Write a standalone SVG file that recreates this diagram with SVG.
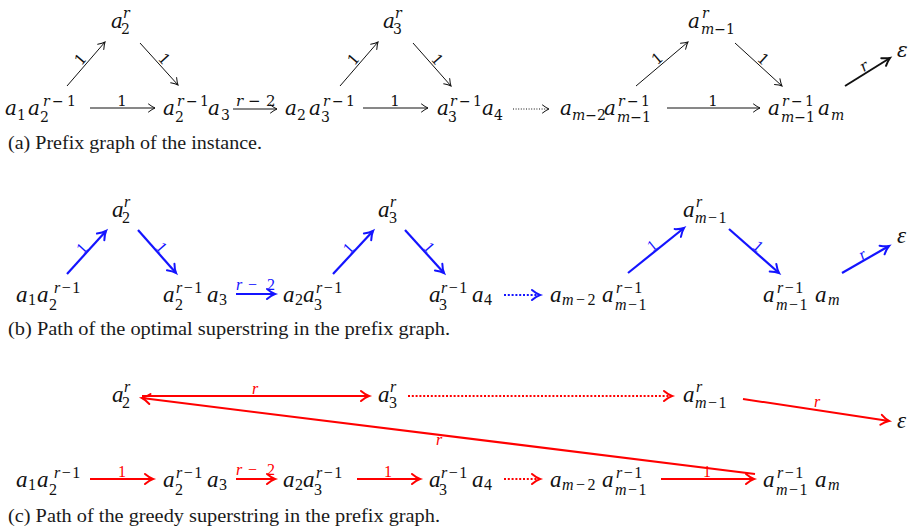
<svg xmlns="http://www.w3.org/2000/svg" width="908" height="529" viewBox="0 0 908 529">
<style>
.ma{font-family:"DejaVu Serif",serif;font-size:20px;font-style:italic;fill:#111}
.sa{font-size:14px}
.mb{font-family:"Liberation Serif","DejaVu Serif",serif;font-size:23px;font-style:italic;fill:#111}
.sb{font-size:16px}
.u{font-style:normal}
.it{font-style:italic}
.cap{font-family:"Liberation Serif",serif;font-size:19px;fill:#1a1a1a}
.lk{font-family:"DejaVu Serif",serif;font-size:15px;fill:#111}
.lb{font-family:"Liberation Serif",serif;font-size:16px;fill:#1414ff}
.lr{font-family:"Liberation Serif",serif;font-size:16px;fill:#ff0000}
.ek{stroke:#111;stroke-width:1;fill:none;marker-end:url(#hk)}
.ekt{stroke:#111;stroke-width:2;fill:none;marker-end:url(#hkt)}
.eb{stroke:#1414ff;stroke-width:2.2;fill:none;marker-end:url(#hb)}
.er{stroke:#ff0000;stroke-width:2;fill:none;marker-end:url(#hr)}
.dk{stroke-dasharray:1 1.6}
.dc{stroke-dasharray:2 1.8}
</style>
<defs>
<marker id="hk" markerUnits="userSpaceOnUse" orient="auto" viewBox="-12 -7 14 14" markerWidth="14" markerHeight="14" refX="0" refY="0" overflow="visible"><path d="M-6.5,-4 Q-2.5,-1 0,0 Q-2.5,1 -6.5,4" fill="none" stroke="#111" stroke-width="1" stroke-linecap="round"/></marker>
<marker id="hkt" markerUnits="userSpaceOnUse" orient="auto" viewBox="-12 -7 14 14" markerWidth="14" markerHeight="14" refX="0" refY="0" overflow="visible"><path d="M-7.5,-4.5 Q-3,-1.2 0,0 Q-3,1.2 -7.5,4.5" fill="none" stroke="#111" stroke-width="2" stroke-linecap="round"/></marker>
<marker id="hb" markerUnits="userSpaceOnUse" orient="auto" viewBox="-12 -7 14 14" markerWidth="14" markerHeight="14" refX="0" refY="0" overflow="visible"><path d="M-8,-5 Q-3.5,-1.2 0,0 Q-3.5,1.2 -8,5" fill="none" stroke="#1414ff" stroke-width="2" stroke-linecap="round"/></marker>
<marker id="hr" markerUnits="userSpaceOnUse" orient="auto" viewBox="-12 -7 14 14" markerWidth="14" markerHeight="14" refX="0" refY="0" overflow="visible"><path d="M-8,-5 Q-3.5,-1.2 0,0 Q-3.5,1.2 -8,5" fill="none" stroke="#ff0000" stroke-width="2" stroke-linecap="round"/></marker>
</defs>
<rect width="908" height="529" fill="#fff"/>

<!-- Panel (a) -->
<g id="a-connectors">
<path class="ek" d="M67,86 L105,42"/>
<path class="ek" d="M140,43 L178,85"/>
<path class="ek" d="M90,108 L155,108"/>
<path class="ek" d="M233,109 L277,109"/>
<path class="ek" d="M340,86 L378,42"/>
<path class="ek" d="M413,43 L451,86"/>
<path class="ek" d="M363,108 L428,108"/>
<path class="ek dk" d="M513,109 L549,109"/>
<path class="ek" d="M636,86 L688,42"/>
<path class="ek" d="M735,43 L782,86"/>
<path class="ek" d="M667,108 L760,108"/>
<path class="ekt" d="M845,86 L890,58"/>
<text class="lk" text-anchor="middle" transform="translate(86,64) rotate(-49.2)" x="0" y="-2">1</text>
<text class="lk" text-anchor="middle" transform="translate(159,64) rotate(47.9)" x="0" y="-2">1</text>
<text class="lk" text-anchor="middle" transform="translate(359,64) rotate(-49.2)" x="0" y="-2">1</text>
<text class="lk" text-anchor="middle" transform="translate(432,64.5) rotate(48.5)" x="0" y="-2">1</text>
<text class="lk" text-anchor="middle" transform="translate(662,64) rotate(-40.2)" x="0" y="-2">1</text>
<text class="lk" text-anchor="middle" transform="translate(758.5,64.5) rotate(42.5)" x="0" y="-2">1</text>
<text class="lk it" text-anchor="middle" transform="translate(867.5,72) rotate(-31.9)" x="0" y="-2">r</text>
<text class="lk" text-anchor="middle" x="122" y="106">1</text>
<text class="lk"><tspan class="it" x="236" y="106">r</tspan><tspan x="248">−</tspan><tspan x="266">2</tspan></text>
<text class="lk" text-anchor="middle" x="395" y="106">1</text>
<text class="lk" text-anchor="middle" x="713" y="106">1</text>
</g>
<g id="a-node-a1a2">
<text class="ma"><tspan x="5" y="115">a</tspan><tspan class="sa u" x="17" y="120">1</tspan><tspan x="28" y="115">a</tspan><tspan class="sa u" x="40" y="122">2</tspan><tspan class="sa" x="43" y="106">r</tspan><tspan class="sa u" x="52">−</tspan><tspan class="sa u" x="67">1</tspan></text>
</g>
<g id="a-node-a2r">
<text class="ma"><tspan x="111" y="28">a</tspan><tspan class="sa" x="123" y="18">r</tspan><tspan class="sa u" x="121" y="34">2</tspan></text>
</g>
<g id="a-node-a2a3">
<text class="ma"><tspan x="163" y="115">a</tspan><tspan class="sa" x="177" y="106">r</tspan><tspan class="sa u" x="186">−</tspan><tspan class="sa u" x="200">1</tspan><tspan class="sa u" x="175" y="122">2</tspan><tspan x="208" y="115">a</tspan><tspan class="sa u" x="221" y="120">3</tspan></text>
</g>
<g id="a-node-a2a3b">
<text class="ma"><tspan x="285" y="115">a</tspan><tspan class="sa u" x="297" y="120">2</tspan><tspan x="309" y="115">a</tspan><tspan class="sa" x="323" y="106">r</tspan><tspan class="sa u" x="332">−</tspan><tspan class="sa u" x="346">1</tspan><tspan class="sa u" x="321" y="122">3</tspan></text>
</g>
<g id="a-node-a3r">
<text class="ma"><tspan x="383" y="28">a</tspan><tspan class="sa" x="395" y="18">r</tspan><tspan class="sa u" x="393" y="34">3</tspan></text>
</g>
<g id="a-node-a3a4">
<text class="ma"><tspan x="437" y="115">a</tspan><tspan class="sa" x="450" y="106">r</tspan><tspan class="sa u" x="459">−</tspan><tspan class="sa u" x="473">1</tspan><tspan class="sa u" x="448" y="122">3</tspan><tspan x="482" y="115">a</tspan><tspan class="sa u" x="494" y="120">4</tspan></text>
</g>
<g id="a-node-am2am1">
<text class="ma"><tspan x="560" y="115">a</tspan><tspan class="sa" x="572" y="120">m</tspan><tspan class="sa u">−2</tspan><tspan x="604" y="115">a</tspan><tspan class="sa" x="618" y="106">r</tspan><tspan class="sa u" x="627">−</tspan><tspan class="sa u" x="641">1</tspan><tspan class="sa" x="617" y="122">m</tspan><tspan class="sa u">−1</tspan></text>
</g>
<g id="a-node-amr">
<text class="ma"><tspan x="688" y="28">a</tspan><tspan class="sa" x="702" y="18">r</tspan><tspan class="sa" x="701" y="34">m</tspan><tspan class="sa u">−1</tspan></text>
</g>
<g id="a-node-am1am">
<text class="ma"><tspan x="768" y="115">a</tspan><tspan class="sa" x="782" y="106">r</tspan><tspan class="sa u" x="791">−</tspan><tspan class="sa u" x="805">1</tspan><tspan class="sa" x="781" y="122">m</tspan><tspan class="sa u">−1</tspan><tspan x="818" y="115">a</tspan><tspan class="sa" x="831" y="120">m</tspan></text>
</g>
<g id="a-node-eps">
<text class="ma" x="897" y="57">ε</text>
</g>
<text class="cap" x="8" y="149" textLength="254" lengthAdjust="spacingAndGlyphs">(a) Prefix graph of the instance.</text>

<!-- Panel (b) -->
<g id="b-connectors">
<path class="eb" d="M67,274 L106,231"/>
<path class="eb" d="M138,230 L176,273"/>
<path class="eb" d="M236,294 L275,294"/>
<path class="eb" d="M333,274 L373,231"/>
<path class="eb" d="M405,230 L444,273"/>
<path class="eb dc" d="M504,295 L540,295"/>
<path class="eb" d="M628,273 L684,228"/>
<path class="eb" d="M729,229 L779,273"/>
<path class="eb" d="M842,273 L889,246"/>
<text class="lb" text-anchor="middle" transform="translate(86.5,252.5) rotate(-47.8)" x="0" y="-1">1</text>
<text class="lb" text-anchor="middle" transform="translate(157,251.5) rotate(48.5)" x="0" y="-1">1</text>
<text class="lb" text-anchor="middle" transform="translate(353,252.5) rotate(-47.1)" x="0" y="-1">1</text>
<text class="lb" text-anchor="middle" transform="translate(424.5,251.5) rotate(48.5)" x="0" y="-1">1</text>
<text class="lb" text-anchor="middle" transform="translate(656,250.5) rotate(-38.8)" x="0" y="-1">1</text>
<text class="lb" text-anchor="middle" transform="translate(754,251) rotate(41.3)" x="0" y="-1">1</text>
<text class="lb it" text-anchor="middle" transform="translate(865.5,259.5) rotate(-29.9)" x="0" y="-1">r</text>
<text class="lb"><tspan class="it" x="236" y="290">r</tspan><tspan x="248">−</tspan><tspan x="267">2</tspan></text>
</g>
<g id="b-node-a1a2">
<text class="mb"><tspan x="16" y="302">a</tspan><tspan class="sb u" x="28" y="305">1</tspan><tspan x="37" y="302">a</tspan><tspan class="sb u" x="49" y="310">2</tspan><tspan class="sb" x="54" y="293">r</tspan><tspan class="sb u" dx="1.5">−</tspan><tspan class="sb u" dx="1.5">1</tspan></text>
</g>
<g id="b-node-a2r">
<text class="mb"><tspan x="112" y="217">a</tspan><tspan class="sb" x="124" y="207">r</tspan><tspan class="sb u" x="122" y="223">2</tspan></text>
</g>
<g id="b-node-a2a3">
<text class="mb"><tspan x="163" y="302">a</tspan><tspan class="sb" x="176" y="293">r</tspan><tspan class="sb u" dx="1.5">−</tspan><tspan class="sb u" dx="1.5">1</tspan><tspan class="sb u" x="175" y="310">2</tspan><tspan x="207" y="302">a</tspan><tspan class="sb u" x="219" y="305">3</tspan></text>
</g>
<g id="b-node-a2a3b">
<text class="mb"><tspan x="283" y="302">a</tspan><tspan class="sb u" x="295" y="305">2</tspan><tspan x="303" y="302">a</tspan><tspan class="sb" x="316" y="293">r</tspan><tspan class="sb u" dx="1.5">−</tspan><tspan class="sb u" dx="1.5">1</tspan><tspan class="sb u" x="314" y="310">3</tspan></text>
</g>
<g id="b-node-a3r">
<text class="mb"><tspan x="378" y="217">a</tspan><tspan class="sb" x="390" y="207">r</tspan><tspan class="sb u" x="389" y="223">3</tspan></text>
</g>
<g id="b-node-a3a4">
<text class="mb"><tspan x="429" y="302">a</tspan><tspan class="sb" x="441" y="293">r</tspan><tspan class="sb u" dx="1.5">−</tspan><tspan class="sb u" dx="1.5">1</tspan><tspan class="sb u" x="439" y="310">3</tspan><tspan x="472" y="302">a</tspan><tspan class="sb u" x="484" y="305">4</tspan></text>
</g>
<g id="b-node-am2am1">
<text class="mb"><tspan x="550" y="302">a</tspan><tspan class="sb" x="562" y="305">m</tspan><tspan class="sb u" dx="2.5">−</tspan><tspan class="sb u" dx="2.5">2</tspan><tspan x="602" y="302">a</tspan><tspan class="sb" x="616" y="293">r</tspan><tspan class="sb u" dx="1.5">−</tspan><tspan class="sb u" dx="1.5">1</tspan><tspan class="sb" x="615" y="310">m</tspan><tspan class="sb u" dx="1.5">−</tspan><tspan class="sb u" dx="1.5">1</tspan></text>
</g>
<g id="b-node-amr">
<text class="mb"><tspan x="683" y="217">a</tspan><tspan class="sb" x="696" y="207">r</tspan><tspan class="sb" x="695" y="223">m</tspan><tspan class="sb u" dx="1.5">−</tspan><tspan class="sb u" dx="1.5">1</tspan></text>
</g>
<g id="b-node-am1am">
<text class="mb"><tspan x="763" y="302">a</tspan><tspan class="sb" x="777" y="293">r</tspan><tspan class="sb u" dx="1.5">−</tspan><tspan class="sb u" dx="1.5">1</tspan><tspan class="sb" x="776" y="310">m</tspan><tspan class="sb u" dx="1.5">−</tspan><tspan class="sb u" dx="1.5">1</tspan><tspan x="815" y="302">a</tspan><tspan class="sb" x="828" y="305">m</tspan></text>
</g>
<g id="b-node-eps">
<text class="mb" x="897" y="243">ε</text>
</g>
<text class="cap" x="8" y="335" textLength="442" lengthAdjust="spacingAndGlyphs">(b) Path of the optimal superstring in the prefix graph.</text>

<!-- Panel (c) -->
<g id="c-connectors">
<path class="er" d="M142,396 L369,396"/>
<path class="er" d="M755,474 L142,398"/>
<path class="er dc" d="M408,396 L672,396"/>
<path class="er" d="M743,399 L889,421"/>
<path class="er" d="M90,479 L153,479"/>
<path class="er" d="M236,479 L275,479"/>
<path class="er" d="M357,479 L420,479"/>
<path class="er dc" d="M504,479 L540,479"/>
<path class="er" d="M661,479 L754,479"/>
<text class="lr it" text-anchor="middle" x="255" y="394">r</text>
<text class="lr it" text-anchor="middle" x="439" y="445">r</text>
<text class="lr it" text-anchor="middle" x="817" y="407">r</text>
<text class="lr" text-anchor="middle" x="122" y="477">1</text>
<text class="lr"><tspan class="it" x="236" y="475">r</tspan><tspan x="248">−</tspan><tspan x="267">2</tspan></text>
<text class="lr" text-anchor="middle" x="388" y="477">1</text>
<text class="lr" text-anchor="middle" x="707" y="477">1</text>
</g>
<g id="c-node-a2r">
<text class="mb"><tspan x="112" y="402">a</tspan><tspan class="sb" x="124" y="392">r</tspan><tspan class="sb u" x="122" y="408">2</tspan></text>
</g>
<g id="c-node-a3r">
<text class="mb"><tspan x="378" y="402">a</tspan><tspan class="sb" x="390" y="392">r</tspan><tspan class="sb u" x="389" y="408">3</tspan></text>
</g>
<g id="c-node-amr">
<text class="mb"><tspan x="683" y="402">a</tspan><tspan class="sb" x="696" y="392">r</tspan><tspan class="sb" x="695" y="408">m</tspan><tspan class="sb u" dx="1.5">−</tspan><tspan class="sb u" dx="1.5">1</tspan></text>
</g>
<g id="c-node-eps">
<text class="mb" x="897" y="428">ε</text>
</g>
<g id="c-node-a1a2">
<text class="mb"><tspan x="16" y="487">a</tspan><tspan class="sb u" x="28" y="490">1</tspan><tspan x="37" y="487">a</tspan><tspan class="sb u" x="49" y="495">2</tspan><tspan class="sb" x="54" y="478">r</tspan><tspan class="sb u" dx="1.5">−</tspan><tspan class="sb u" dx="1.5">1</tspan></text>
</g>
<g id="c-node-a2a3">
<text class="mb"><tspan x="163" y="487">a</tspan><tspan class="sb" x="176" y="478">r</tspan><tspan class="sb u" dx="1.5">−</tspan><tspan class="sb u" dx="1.5">1</tspan><tspan class="sb u" x="175" y="495">2</tspan><tspan x="207" y="487">a</tspan><tspan class="sb u" x="219" y="490">3</tspan></text>
</g>
<g id="c-node-a2a3b">
<text class="mb"><tspan x="283" y="487">a</tspan><tspan class="sb u" x="295" y="490">2</tspan><tspan x="303" y="487">a</tspan><tspan class="sb" x="316" y="478">r</tspan><tspan class="sb u" dx="1.5">−</tspan><tspan class="sb u" dx="1.5">1</tspan><tspan class="sb u" x="314" y="495">3</tspan></text>
</g>
<g id="c-node-a3a4">
<text class="mb"><tspan x="429" y="487">a</tspan><tspan class="sb" x="441" y="478">r</tspan><tspan class="sb u" dx="1.5">−</tspan><tspan class="sb u" dx="1.5">1</tspan><tspan class="sb u" x="439" y="495">3</tspan><tspan x="472" y="487">a</tspan><tspan class="sb u" x="484" y="490">4</tspan></text>
</g>
<g id="c-node-am2am1">
<text class="mb"><tspan x="550" y="487">a</tspan><tspan class="sb" x="562" y="490">m</tspan><tspan class="sb u" dx="2.5">−</tspan><tspan class="sb u" dx="2.5">2</tspan><tspan x="602" y="487">a</tspan><tspan class="sb" x="616" y="478">r</tspan><tspan class="sb u" dx="1.5">−</tspan><tspan class="sb u" dx="1.5">1</tspan><tspan class="sb" x="615" y="495">m</tspan><tspan class="sb u" dx="1.5">−</tspan><tspan class="sb u" dx="1.5">1</tspan></text>
</g>
<g id="c-node-am1am">
<text class="mb"><tspan x="763" y="487">a</tspan><tspan class="sb" x="777" y="478">r</tspan><tspan class="sb u" dx="1.5">−</tspan><tspan class="sb u" dx="1.5">1</tspan><tspan class="sb" x="776" y="495">m</tspan><tspan class="sb u" dx="1.5">−</tspan><tspan class="sb u" dx="1.5">1</tspan><tspan x="815" y="487">a</tspan><tspan class="sb" x="828" y="490">m</tspan></text>
</g>
<text class="cap" x="8" y="522" textLength="432" lengthAdjust="spacingAndGlyphs">(c) Path of the greedy superstring in the prefix graph.</text>
</svg>
